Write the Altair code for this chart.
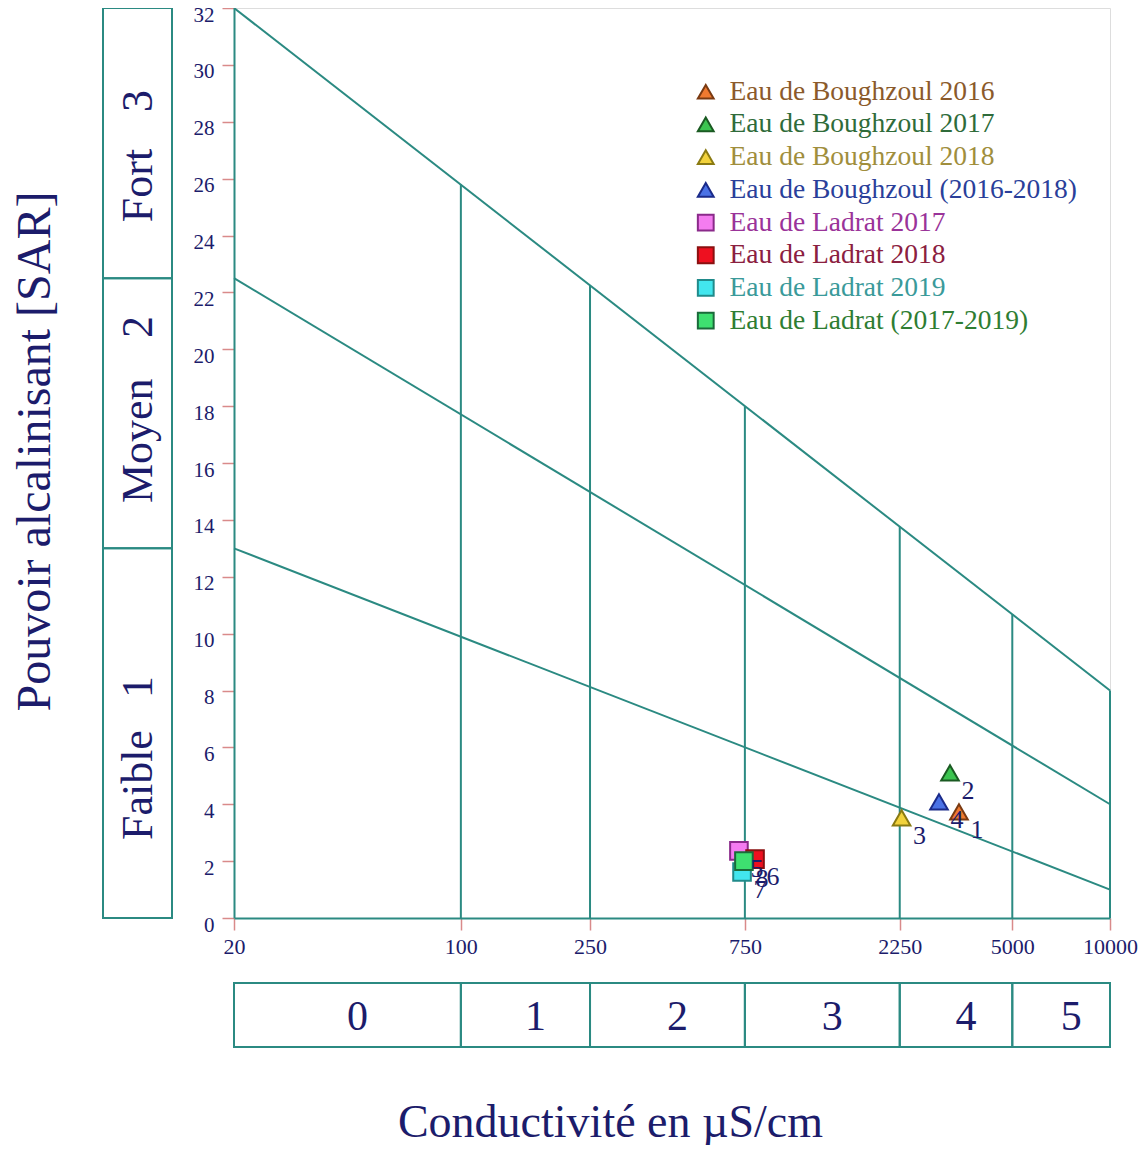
import math
import altair as alt
import pandas as pd

NAVY = "#1c1c6b"
TEAL = "#2b8a82"
TICK = "#d98a8a"
FONT = "Liberation Serif"

# ---- data ----
series = [
    "Eau de Boughzoul 2016",
    "Eau de Boughzoul 2017",
    "Eau de Boughzoul 2018",
    "Eau de Boughzoul (2016-2018)",
    "Eau de Ladrat 2017",
    "Eau de Ladrat 2018",
    "Eau de Ladrat 2019",
    "Eau de Ladrat (2017-2019)",
]
numeros = ["1", "2", "3", "4", "5", "6", "7", "8"]
conductivite = [3425, 3214, 2280, 2972, 719, 806, 735, 745]
sar = [3.73, 5.10, 3.52, 4.08, 2.36, 2.07, 1.62, 2.00]

fills = ["#f07a30", "#3cc450", "#f2d23c", "#4a72e6", "#f47cf0", "#ee1020", "#42e6ee", "#3ee070"]
strokes = ["#7a3a12", "#1a5a22", "#8a7a12", "#1a2a8a", "#8a2a8a", "#8a1010", "#208a8a", "#1a6a3a"]
label_colors = ["#8b5a2b", "#2f6b3a", "#a08e3c", "#2a3f9a", "#9a3399", "#8b2040", "#3a9a9a", "#2e7d32"]
shapes = ["triangle-up"] * 4 + ["square"] * 4

droites_x = [20, 10000]
droite_faible = [13, 1]
droite_moyen = [22.5, 4]
droite_fort = [32, 8]

verticales_x = [100, 250, 750, 2250, 5000, 10000]
verticales_haut = [25.8, 22.25, 18.0, 13.76, 10.68, 8.0]

classes_cond_bornes = [20, 100, 250, 750, 2250, 5000, 10000]
classes_cond_labels = ["0", "1", "2", "3", "4", "5"]

classes_sar_bornes = [0, 13, 22.5, 32]
classes_sar_mots = ["Faible", "Moyen", "Fort"]
classes_sar_nums = ["1", "2", "3"]
mots_y = [2.74, 14.59, 24.47]
nums_y = [8.12, 20.78, 28.73]

x_ticks = [20, 100, 250, 750, 2250, 5000, 10000]
y_ticks = list(range(0, 33, 2))

# ---- tables ----
pts = pd.DataFrame({"serie": series, "num": numeros, "cond": conductivite, "sar": sar})
rows = []
for nom, vals in [("faible", droite_faible), ("moyen", droite_moyen), ("fort", droite_fort)]:
    for xv, yv in zip(droites_x, vals):
        rows.append({"ligne": nom, "cond": xv, "sar": yv})
droites = pd.DataFrame(rows)
verts = pd.DataFrame({"cond": verticales_x, "bas": [0] * len(verticales_x), "haut": verticales_haut})
bas_boxes = pd.DataFrame({
    "debut": classes_cond_bornes[:-1],
    "fin": classes_cond_bornes[1:],
    "label": classes_cond_labels,
})
bas_boxes["milieu"] = [math.sqrt(a * b) for a, b in zip(bas_boxes["debut"], bas_boxes["fin"])]
gauche_boxes = pd.DataFrame({"bas": classes_sar_bornes[:-1], "haut": classes_sar_bornes[1:]})
mots = pd.DataFrame({"txt": classes_sar_mots, "pos": mots_y})
nums = pd.DataFrame({"txt": classes_sar_nums, "pos": nums_y})

# ---- scales / axes ----
xsc = alt.Scale(type="log", domain=[20, 10000], nice=False)
ysc = alt.Scale(domain=[0, 32], nice=False, zero=False)

ax_x = alt.Axis(
    values=x_ticks, format="d", grid=False, title="Conductivité en µS/cm",
    titleX=376, titleY=218, titleBaseline="alphabetic", titleAlign="center",
    titleFont=FONT, titleFontSize=46, titleFontWeight="normal", titleColor=NAVY,
    labelFont=FONT, labelFontSize=22, labelColor=NAVY, labelPadding=6,
    labelFlush=False, labelOverlap=False,
    tickColor=TICK, tickSize=12, tickWidth=1.5, domainColor=TEAL, domainWidth=2,
)
ax_y = alt.Axis(
    values=y_ticks, grid=False, title="Pouvoir alcalinisant [SAR]",
    titleX=-185, titleY=443, titleAngle=270, titleBaseline="alphabetic", titleAlign="center",
    titleFont=FONT, titleFontSize=48, titleFontWeight="normal", titleColor=NAVY,
    labelFont=FONT, labelFontSize=21, labelColor=NAVY, labelPadding=8, labelOffset=7,
    labelFlush=False, labelOverlap=False,
    tickColor=TICK, tickSize=12, tickWidth=1.5, domainColor=TEAL, domainWidth=2,
)

def X(field):
    return alt.X(field, scale=xsc, axis=ax_x)

def Y(field):
    return alt.Y(field, scale=ysc, axis=ax_y)

expr_parts = ""
for s, c in zip(series[:-1], label_colors[:-1]):
    expr_parts += f"datum.label === '{s}' ? '{c}' : "
expr_parts += f"'{label_colors[-1]}'"

leg = alt.Legend(
    title=None, orient="none", legendX=458, legendY=70,
    labelFont=FONT, labelFontSize=27.5, labelColor=alt.expr(expr_parts),
    labelLimit=600, labelOffset=10, rowPadding=3.7,
    symbolSize=250, symbolStrokeWidth=2,
)

# ---- layers ----
lignes = alt.Chart(droites).mark_line(color=TEAL, strokeWidth=2).encode(
    x=X("cond:Q"), y=Y("sar:Q"), detail="ligne:N"
)
regles = alt.Chart(verts).mark_rule(color=TEAL, strokeWidth=2).encode(
    x=X("cond:Q"), y=Y("bas:Q"), y2="haut:Q"
)
cadres_bas = alt.Chart(bas_boxes).mark_rect(fillOpacity=0, stroke=TEAL, strokeWidth=2).encode(
    x=X("debut:Q"), x2="fin:Q", y=alt.value(975), y2=alt.value(1039)
)
textes_bas = alt.Chart(bas_boxes).mark_text(
    font=FONT, fontSize=42, color=NAVY, dx=10, baseline="middle", align="center"
).encode(x=X("milieu:Q"), y=alt.value(1009), text="label:N")
cadres_gauche = alt.Chart(gauche_boxes).mark_rect(fillOpacity=0, stroke=TEAL, strokeWidth=2).encode(
    y=Y("bas:Q"), y2="haut:Q", x=alt.value(-131), x2=alt.value(-62)
)
textes_mots = alt.Chart(mots).mark_text(
    font=FONT, fontSize=44, color=NAVY, angle=270, align="left", baseline="alphabetic"
).encode(y=Y("pos:Q"), x=alt.value(-82), text="txt:N")
textes_nums = alt.Chart(nums).mark_text(
    font=FONT, fontSize=44, color=NAVY, angle=270, align="center", baseline="alphabetic"
).encode(y=Y("pos:Q"), x=alt.value(-82), text="txt:N")

points = alt.Chart(pts).mark_point(filled=True, size=310, opacity=1, strokeWidth=2).encode(
    x=X("cond:Q"), y=Y("sar:Q"),
    fill=alt.Fill("serie:N", scale=alt.Scale(domain=series, range=fills), legend=leg, sort=series),
    stroke=alt.Stroke("serie:N", scale=alt.Scale(domain=series, range=strokes), legend=leg, sort=series),
    shape=alt.Shape("serie:N", scale=alt.Scale(domain=series, range=shapes), legend=leg, sort=series),
)
etiquettes = alt.Chart(pts).mark_text(
    font=FONT, fontSize=26, color=NAVY, dx=18, dy=18, align="center", baseline="middle"
).encode(x=X("cond:Q"), y=Y("sar:Q"), text="num:N")

chart = alt.layer(
    lignes, regles, cadres_bas, textes_bas, cadres_gauche, textes_mots, textes_nums, points, etiquettes
).properties(
    width=876, height=910,
    padding={"left": 226, "top": 0, "right": 30, "bottom": 227},
    autosize=alt.AutoSizeParams(type="none"),
).configure_view(stroke="#d9d9d9", strokeWidth=1.5).configure(background="white")

chart.save("out.html", embed_options={"renderer": "svg", "actions": False})
